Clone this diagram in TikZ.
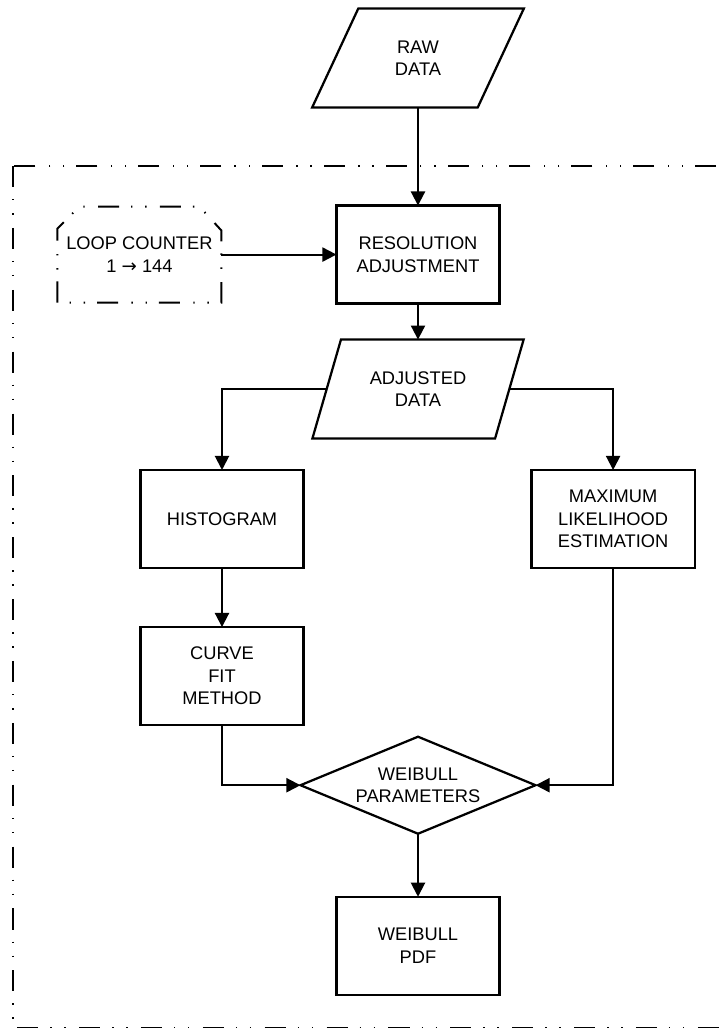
\documentclass[tikz,border=0pt]{standalone}
\usepackage{fontspec}
\setmainfont{Liberation Sans}
\newfontfamily\arrowfont{DejaVu Sans}
\usetikzlibrary{arrows.meta,positioning,shapes.geometric}

\begin{document}
\begin{tikzpicture}[
  x=0.025cm, y=-0.025cm,
  every node/.style={font=\fontsize{13}{15.9}\selectfont, outer sep=0pt},
  dotdash/.style={dash pattern=on 15pt off 8.5pt on 1pt off 9pt on 1pt off 9.5pt},
  block/.style={draw, line width=1.6pt, minimum width=4.075cm, minimum height=2.45cm, align=center, inner sep=0pt},
  io/.style={draw, line width=1.6pt, trapezium, trapezium left angle=63, trapezium right angle=117, trapezium stretches=true, minimum width=5.3cm, minimum height=2.475cm, align=center, inner sep=0pt},
  decision/.style={draw, line width=1.6pt, diamond, aspect=2.4, minimum width=5.875cm, minimum height=2.425cm, align=center, inner sep=0pt},
  looplimit/.style={minimum width=4.1cm, minimum height=2.4cm, align=center, inner sep=0pt},
  border/.style={line width=1.4pt, dotdash},
  arr/.style={-{Triangle[length=10pt,width=10pt]}, line width=1.4pt}
]
  \clip (0,0) rectangle (720,1028);
  \draw[border] (13,166) rectangle (740,1028);

  \node[io] (raw) at (418,58) {RAW\\DATA};
  \node[block, below=2.45cm of raw] (res) {RESOLUTION\\ADJUSTMENT};
  \node[looplimit, left=2.875cm of res] (loop) {LOOP COUNTER\\1 {\arrowfont →} 144};
  \node[io, below=0.9cm of res] (adj) {ADJUSTED\\DATA};
  \node[block] (hist) at (222,519) {HISTOGRAM};
  \node[block, right=5.7cm of hist] (mle) {MAXIMUM\\LIKELIHOOD\\ESTIMATION};
  \node[block, below=1.475cm of hist] (curve) {CURVE\\FIT\\METHOD};
  \node[decision, below=7.45cm of adj] (weib) {WEIBULL\\PARAMETERS};
  \node[block, below=1.575cm of weib] (pdf) {WEIBULL\\PDF};

  % loop limit outline, cut top corners
  \draw[border] (loop.south west) -- ([yshift=-0.55cm]loop.north west)
    -- ([xshift=0.55cm]loop.north west) -- ([xshift=-0.55cm]loop.north east)
    -- ([yshift=-0.6cm]loop.north east) -- (loop.south east) -- cycle;

  \draw[arr] (raw) -- (res);
  \draw[arr] (loop) -- (res);
  \draw[arr] (res) -- (adj);
  \draw[arr] (adj.west) -| (hist.north);
  \draw[arr] (adj.east) -| (mle.north);
  \draw[arr] (hist) -- (curve);
  \draw[arr] (curve.south) |- (weib.west);
  \draw[arr] (mle.south) |- (weib.east);
  \draw[arr] (weib) -- (pdf);
\end{tikzpicture}
\end{document}
